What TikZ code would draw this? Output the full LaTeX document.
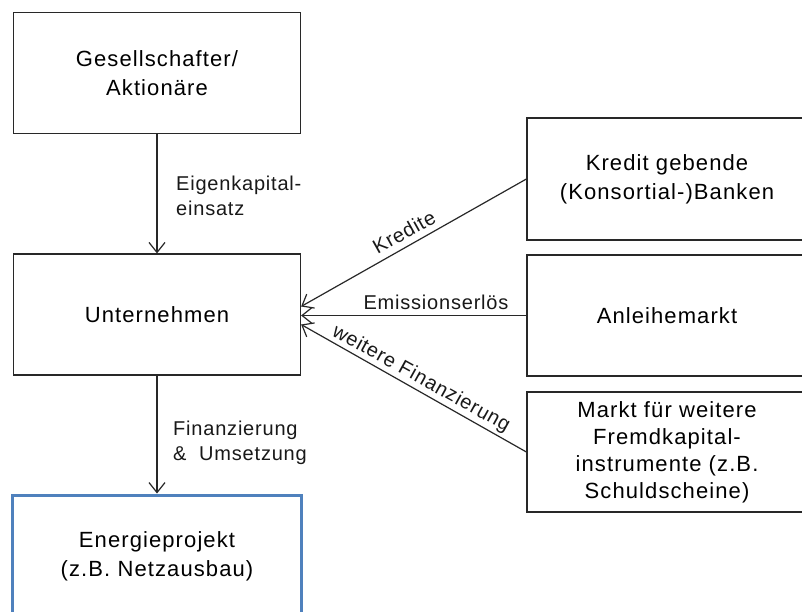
\documentclass[tikz,border=0pt]{standalone}
\usepackage{fontspec}
\setmainfont{Liberation Sans}
\usetikzlibrary{arrows.meta}
\definecolor{frameblue}{RGB}{79,129,189}
\definecolor{linegray}{RGB}{40,40,40}
\begin{document}
\begin{tikzpicture}[x=1pt,y=-1pt,
  box/.style={draw=linegray, line width=1.2pt, rectangle, minimum width=287pt,
    minimum height=121pt, align=center, inner sep=0pt,
    font=\fontsize{22}{29}\selectfont\addfontfeatures{LetterSpace=5}},
  rbox/.style={box, minimum width=280pt},
  arr/.style={draw=linegray, line width=1.2pt, -{Straight Barb[length=10pt,width=16pt,line width=1.2pt]}},
  lbl/.style={font=\fontsize{20}{25}\selectfont\addfontfeatures{LetterSpace=4}, inner sep=0pt, text=black!90},
]
\clip (0,0) rectangle (802,612);
\fill[white] (0,0) rectangle (802,612);

\node[box] (g) at (157,73) {Gesellschafter/\\Aktionäre};
\node[box] (u) at (157,314.5) {Unternehmen};
\node[box, draw=frameblue, line width=3pt, minimum width=289pt, minimum height=122pt] (e) at (157,556) {Energieprojekt\\(z.B. Netzausbau)};

\node[rbox, minimum height=122pt] (k) at (667,179) {Kredit gebende\\(Konsortial-)Banken};
\node[rbox] (a) at (667,315.5) {Anleihemarkt};
\node[rbox, minimum height=120pt, font=\fontsize{22}{27}\selectfont\addfontfeatures{LetterSpace=5}] (m) at (667,452) {Markt für weitere\\Fremdkapital-\\instrumente (z.B.\\Schuldscheine)};

\draw[arr] (g) -- (u);
\draw[arr] (u) -- (e);
\draw[arr] (k.west) -- ([yshift=8pt]u.east);
\draw[arr] (a.west) -- (a.west -| u.east);
\draw[arr] (m.west) -- ([yshift=-10pt]u.east);

\node[lbl, anchor=west, align=left] (l1) at (176,196) {Eigenkapital-\\einsatz};
\node[lbl, anchor=west, align=left] (l2) at (173,443) {Finanzierung\\\&~~Umsetzung};
\node[lbl, rotate=29.2] (l3) at (404,232) {Kredite};
\node[lbl] (l4) at (436,302) {Emissionserlös};
\node[lbl, rotate=-29] (l5) at (421,379) {weitere Finanzierung};
\end{tikzpicture}
\end{document}
